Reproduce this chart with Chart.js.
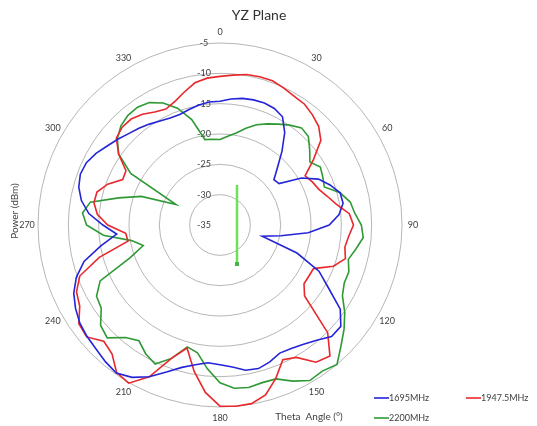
<!DOCTYPE html>
<html>
<head>
<meta charset="utf-8">
<script src="https://cdn.jsdelivr.net/npm/chart.js@4.4.1/dist/chart.umd.min.js"></script>
<style>
  html, body { margin: 0; padding: 0; background: #fff; }
  #contenedor { position: relative; width: 537px; height: 426px; }
</style>
</head>
<body>
<div id="contenedor"><canvas id="grafica"></canvas></div>
<script>
// angulos theta (grados), cada 5
const thetaDeg = [0, 5, 10, 15, 20, 25, 30, 35, 40, 45, 50, 55, 60, 65, 70, 75, 80, 85,
  90, 95, 100, 105, 110, 115, 120, 125, 130, 135, 140, 145, 150, 155, 160, 165, 170, 175,
  180, 185, 190, 195, 200, 205, 210, 215, 220, 225, 230, 235, 240, 245, 250, 255, 260, 265,
  270, 275, 280, 285, 290, 295, 300, 305, 310, 315, 320, 325, 330, 335, 340, 345, 350, 355];

const angleTicks = [0, 30, 60, 90, 120, 150, 180, 210, 240, 270, 300, 330];
const powerTicks = [-5, -10, -15, -20, -25, -30, -35];

const series = ['1695MHz', '1947.5MHz', '2200MHz'];

// potencia (dBm)
const potencia1695 = [-14.6, -14.15, -13.8, -13.65, -13.6, -13.8, -14.4, -16.4, -19.1, -21.6, -23.4, -23.1,
  -19.5, -17.1, -15.7, -14.5, -14.4, -15.3, -17.0, -20.4, -24.8, -27.8, -21.5, -17.0,
  -14.4, -10.8, -9.0, -9.0, -10.2, -11.0, -11.5, -11.7, -11.0, -10.5, -10.7, -11.5,
  -11.95, -12.2, -11.6, -10.7, -9.2, -7.4, -6.0, -5.2, -5.6, -6.1, -6.4, -6.8,
  -7.5, -8.4, -9.8, -11.8, -15.0, -17.9, -15.7, -13.3, -11.8, -10.9, -10.5, -10.7,
  -11.4, -12.3, -13.0, -13.7, -14.2, -14.7, -15.2, -15.55, -15.6, -15.3, -14.9, -14.65];

const potencia1947 = [-10.5, -10.2, -9.8, -9.7, -9.7, -10.1, -10.5, -10.7, -11.3, -12.0, -13.3, -16.2,
  -18.8, -18.2, -17.7, -16.7, -15.5, -13.6, -13.0, -13.7, -14.1, -13.6, -15.1, -18.0,
  -18.1, -18.1, -16.8, -9.9, -6.8, -7.4, -9.8, -10.5, -8.1, -6.0, -5.1, -5.0,
  -5.15, -7.3, -10.5, -14.0, -11.6, -7.4, -4.9, -5.3, -7.3, -7.9, -6.3, -6.6,
  -8.3, -8.9, -10.4, -14.4, -19.6, -19.4, -16.5, -14.7, -13.9, -14.0, -15.3, -17.3,
  -17.1, -14.6, -12.7, -12.2, -12.2, -12.7, -13.5, -13.9, -13.3, -12.3, -11.2, -10.7];

const potencia2200 = [-20.9, -20.3, -19.6, -18.5, -17.4, -16.6, -15.8, -14.9, -14.1, -14.4, -15.7, -16.9,
  -15.9, -16.3, -16.7, -14.5, -13.2, -12.7, -11.7, -11.3, -12.25, -13.1, -12.4, -12.4,
  -11.7, -9.9, -8.3, -6.8, -5.0, -5.6, -5.4, -6.6, -8.0, -8.1, -7.8, -8.0,
  -9.0, -11.2, -13.6, -14.2, -11.6, -9.7, -10.5, -11.7, -10.8, -8.7, -9.3, -11.1,
  -11.5, -13.2, -19.2, -21.9, -20.2, -15.7, -13.0, -12.25, -13.3, -17.7, -21.2, -27.0,
  -18.0, -14.6, -12.9, -11.9, -11.4, -11.3, -11.7, -12.8, -14.5, -17.0, -20.7, -20.8];

const colores = ['#2424d8', '#e8282c', '#2f9a35'];

const fuente = 'Lato, "Liberation Sans", sans-serif';

const textosPlugin = {
    id: 'textos',
    beforeDatasetsDraw(chart) {
        const ctx = chart.ctx;
        const r = chart.scales.r;
        ctx.save();
        ctx.fillStyle = '#404040';
        ctx.textAlign = 'center';
        ctx.textBaseline = 'middle';
        ctx.font = '9px ' + fuente;
        // escala de potencia sobre el eje de 0 grados
        powerTicks.forEach(v => {
            const d = r.getDistanceFromCenterForValue(v);
            ctx.fillText(String(v), r.xCenter - 16, r.yCenter - d);
        });
        // angulos
        angleTicks.forEach(a => {
            const p = r.getPointPosition(thetaDeg.indexOf(a), r.drawingArea + 11);
            ctx.fillText(String(a), p.x, p.y);
        });
        // barra verde del centro (residuo del grafico original)
        ctx.strokeStyle = '#6ee05a';
        ctx.lineWidth = 2.5;
        ctx.beginPath();
        ctx.moveTo(r.xCenter + 17, r.yCenter - 40);
        ctx.lineTo(r.xCenter + 17, r.yCenter + 39);
        ctx.stroke();
        ctx.fillStyle = '#4caf50';
        ctx.fillRect(r.xCenter + 15, r.yCenter + 37, 4, 4);
        ctx.restore();
    },
    afterDraw(chart) {
        const ctx = chart.ctx;
        ctx.save();
        ctx.textBaseline = 'middle';
        // titulo
        ctx.fillStyle = '#333333';
        ctx.textAlign = 'center';
        ctx.font = '14px ' + fuente;
        ctx.fillText('YZ Plane', 259, 15);
        // titulos de ejes
        ctx.fillStyle = '#404040';
        ctx.font = '10px ' + fuente;
        ctx.fillText('Theta  Angle (°)', 309, 417);
        ctx.save();
        ctx.translate(15, 211);
        ctx.rotate(-Math.PI / 2);
        ctx.fillText('Power (dBm)', 0, 0);
        ctx.restore();
        // leyenda
        const pos = [[374, 398], [466, 398], [374, 418]];
        ctx.font = '9px ' + fuente;
        ctx.textAlign = 'left';
        series.forEach((nombre, i) => {
            const [x, y] = pos[i];
            ctx.strokeStyle = colores[i];
            ctx.lineWidth = 1.6;
            ctx.beginPath();
            ctx.moveTo(x, y);
            ctx.lineTo(x + 15, y);
            ctx.stroke();
            ctx.fillStyle = '#404040';
            ctx.fillText(nombre, x + 15, y);
        });
        ctx.restore();
    }
};

const valores = [potencia1695, potencia1947, potencia2200];

new Chart(document.getElementById('grafica'), {
    type: 'radar',
    data: {
        labels: thetaDeg,
        datasets: series.map((nombre, i) => ({
            label: nombre,
            data: valores[i],
            borderColor: colores[i],
            backgroundColor: 'rgba(0,0,0,0)',
            borderWidth: 1.6,
            fill: false,
            pointRadius: 0,
            tension: 0
        }))
    },
    options: {
        responsive: true,
        maintainAspectRatio: false,
        animation: false,
        layout: { padding: { left: 38, right: 135, top: 43, bottom: 19 } },
        plugins: {
            legend: { display: false },
            title: { display: false },
            tooltip: { enabled: false }
        },
        scales: {
            r: {
                min: -35,
                max: -5,
                ticks: { stepSize: 5, display: false },
                grid: { circular: true, color: '#a3a3a3', lineWidth: 0.8 },
                angleLines: { display: false },
                pointLabels: { display: false }
            }
        }
    },
    plugins: [textosPlugin]
});
</script>
</body>
</html>
